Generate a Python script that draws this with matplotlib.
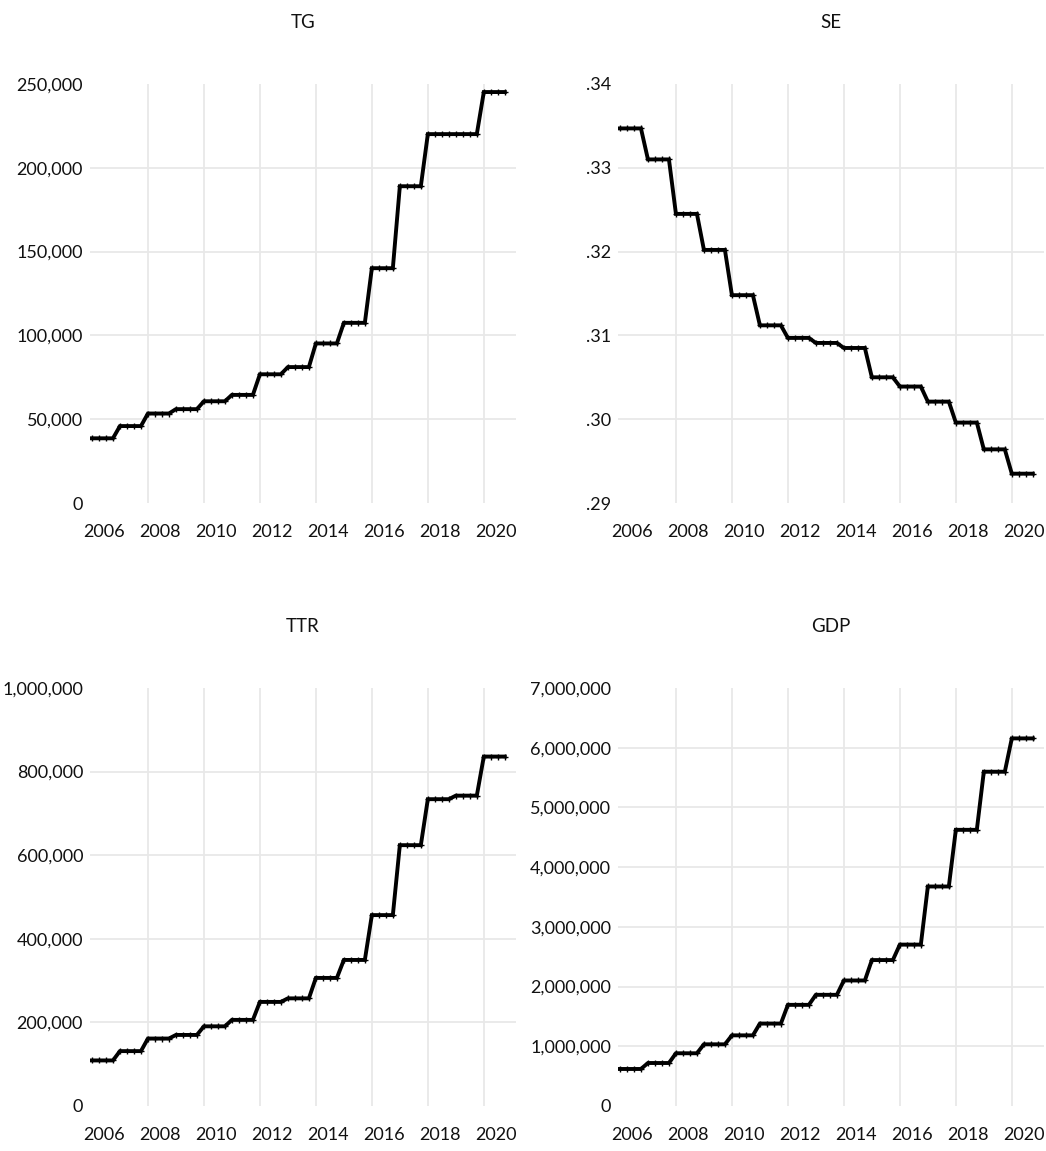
import numpy as np
import matplotlib
matplotlib.use("Agg")
import matplotlib.pyplot as plt
from matplotlib.ticker import FuncFormatter, FixedLocator

plt.rcParams['font.family'] = ['Lato', 'DejaVu Sans']

years = list(range(2006, 2021))
tg = [38600, 45900, 53400, 56000, 60700, 64500, 76800, 81100, 95200, 107500,
      140100, 189000, 220100, 220100, 245200]
se = [0.3347, 0.3310, 0.3245, 0.3202, 0.3148, 0.3112, 0.3097, 0.3091, 0.3085,
      0.3050, 0.3039, 0.3021, 0.2996, 0.2964, 0.2935]
ttr = [109000, 131300, 161400, 170000, 190600, 206000, 249000, 257500, 306400,
       349400, 456700, 624000, 734000, 742500, 836000]
gdp = [620000, 720000, 883000, 1033000, 1183000, 1381000, 1694000, 1862000,
       2102000, 2444000, 2703000, 3676000, 4625000, 5598000, 6156000]
titles = ["TG", "SE", "TTR", "GDP"]
series = [tg, se, ttr, gdp]
yticks = [
    [0, 50000, 100000, 150000, 200000, 250000],
    [0.29, 0.30, 0.31, 0.32, 0.33, 0.34],
    [0, 200000, 400000, 600000, 800000, 1000000],
    [0, 1000000, 2000000, 3000000, 4000000, 5000000, 6000000, 7000000],
]
label_years = list(range(2006, 2021, 2))

# quarterly observations (annual values held constant within year)
quarters = np.array([y + q * 0.25 for y in years for q in range(4)])

fig = plt.figure(figsize=(10.46, 11.51), dpi=100)
W, H = 1046.0, 1151.0
boxes = [
    (90, 84, 426, 419),
    (618, 84, 426, 419),
    (90, 688, 426, 418),
    (618, 688, 426, 418),
]

def fmt_comma(v, pos):
    return "{:,.0f}".format(v)

def fmt_dot(v, pos):
    s = "{:.2f}".format(v)
    return s[1:] if s.startswith("0") else s

for i, (ttl, vals, yt, box) in enumerate(zip(titles, series, yticks, boxes)):
    l, t, w, h = box
    ax = fig.add_axes([l / W, 1 - (t + h) / H, w / W, h / H])
    yq = np.repeat(np.array(vals, dtype=float), 4)
    ax.plot(quarters, yq, color="black", lw=2.8, marker="+", ms=4, mew=1.0,
            solid_joinstyle="miter", zorder=3)
    ax.set_xlim(2005.93, 2021.15)
    ax.set_ylim(yt[0], yt[-1])
    ax.set_yticks(yt)
    ax.yaxis.set_major_formatter(FuncFormatter(fmt_dot if i == 1 else fmt_comma))
    ax.set_xticks([y + 0.43 for y in label_years])
    ax.set_xticklabels([str(y) for y in label_years])
    ax.xaxis.set_minor_locator(FixedLocator(list(range(2008, 2021, 2))))
    ax.grid(True, which="minor", axis="x", color="#e8e8e8", lw=1.3)
    ax.grid(True, which="major", axis="y", color="#e8e8e8", lw=1.3)
    ax.grid(False, which="major", axis="x")
    gl = ax.get_ygridlines()
    gl[0].set_visible(False)
    gl[-1].set_visible(False)
    ax.set_axisbelow(True)
    for s in ax.spines.values():
        s.set_visible(False)
    ax.tick_params(axis="both", which="both", length=0, labelsize=13,
                   colors="#111111")
    ax.tick_params(axis="x", pad=15)
    ax.tick_params(axis="y", pad=5)
    ax.text(0.5, 1 + 62.0 / h, ttl, transform=ax.transAxes, ha="center",
            va="center", fontsize=13.5, color="#111111")

fig.savefig("out.png", dpi=100, facecolor="white")
